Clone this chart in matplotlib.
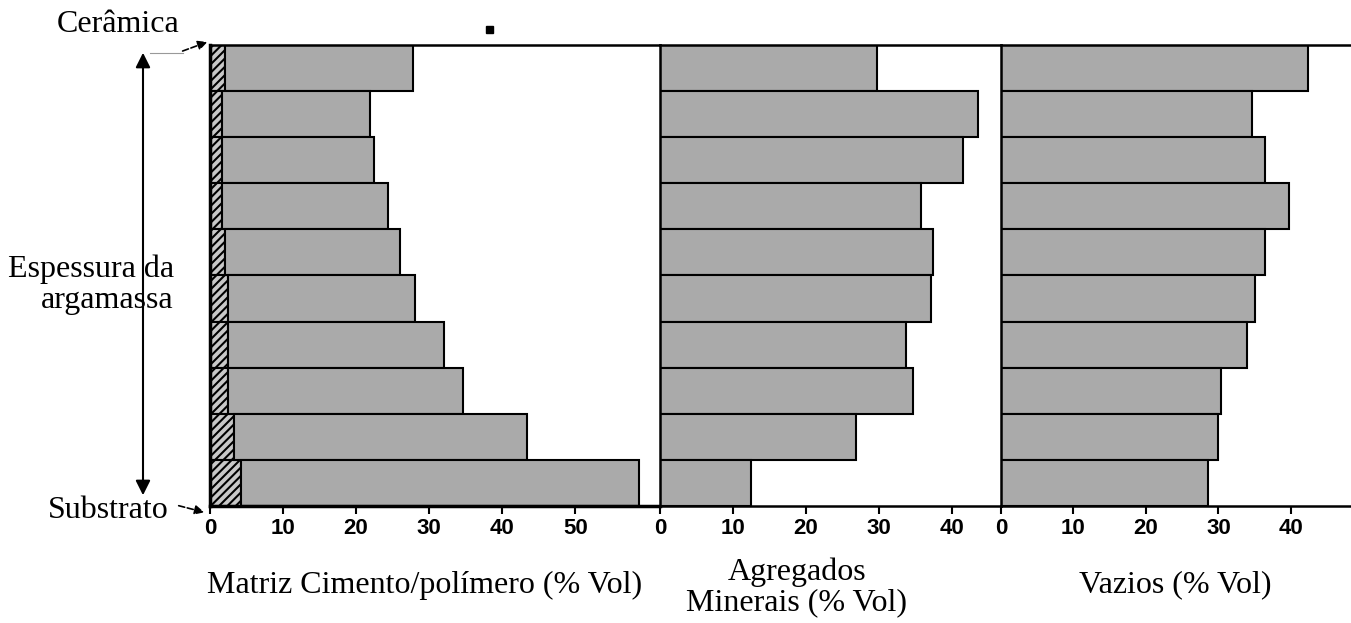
import matplotlib.pyplot as plt

# camadas da argamassa, de cima (ceramica) para baixo (substrato)
camadas = list(range(10, 0, -1))

# matriz cimento/polimero (% Vol): parte hachurada (polimero) + parte cinza (cimento)
polimero = [2.0, 1.7, 1.7, 1.7, 2.0, 2.4, 2.4, 2.4, 3.3, 4.3]
cimento = [25.8, 20.2, 20.7, 22.7, 24.0, 25.7, 29.7, 32.3, 40.1, 54.4]

agregados = [29.7, 43.5, 41.5, 35.8, 37.4, 37.1, 33.7, 34.7, 26.8, 12.4]
vazios = [42.4, 34.7, 36.4, 39.8, 36.4, 35.1, 34.0, 30.3, 30.0, 28.6]

ticks_matriz = [0, 10, 20, 30, 40, 50]
ticks_agreg = [0, 10, 20, 30, 40]
ticks_vazios = [0, 10, 20, 30, 40]

W, H = 1351, 623
fig = plt.figure(figsize=(W / 100, H / 100), dpi=100)

cinza = "#aaaaaa"
plt.rcParams["hatch.linewidth"] = 1.5


def px(x0, x1, y0=45, y1=506):
    return [x0 / W, 1 - y1 / H, (x1 - x0) / W, (y1 - y0) / H]


ax1 = fig.add_axes(px(210, 660))
ax2 = fig.add_axes(px(660, 1001))
ax3 = fig.add_axes(px(1001, 1351))

ax1.barh(camadas, polimero, height=1, color="#c8c8c8", edgecolor="black",
         hatch="////", linewidth=1.5)
ax1.barh(camadas, cimento, left=polimero, height=1, color=cinza,
         edgecolor="black", linewidth=1.5)
ax2.barh(camadas, agregados, height=1, color=cinza, edgecolor="black", linewidth=1.5)
ax3.barh(camadas, vazios, height=1, color=cinza, edgecolor="black", linewidth=1.5)

for ax, xmax, ticks in [(ax1, 61.6, ticks_matriz), (ax2, 46.7, ticks_agreg),
                        (ax3, 48.3, ticks_vazios)]:
    ax.set_xlim(0, xmax)
    ax.set_ylim(0.5, 10.5)
    ax.set_yticks([])
    ax.set_xticks(ticks)
    ax.set_xticklabels([str(t) for t in ticks], fontweight="bold",
                       fontfamily="Liberation Sans", fontsize=16)
    ax.tick_params(axis="x", direction="out", length=6, width=1.5, pad=3)
    ax.spines["right"].set_visible(False)
    for s in ["top", "left", "bottom"]:
        ax.spines[s].set_linewidth(1.8)
ax1.spines["left"].set_linewidth(2.5)
ax1.spines["bottom"].set_linewidth(2.5)

serif = "Liberation Serif"
fs = 23
fig.text(425 / W, 1 - 585 / H, "Matriz Cimento/polímero (% Vol)", ha="center",
         va="center", fontsize=fs, family=serif)
fig.text(797 / W, 1 - 587 / H, "Agregados\nMinerais (% Vol)", ha="center",
         va="center", fontsize=fs, family=serif, linespacing=1.05)
fig.text(1175 / W, 1 - 585 / H, "Vazios (% Vol)", ha="center", va="center",
         fontsize=fs, family=serif)

fig.text(118 / W, 1 - 24 / H, "Cerâmica", ha="center", va="center",
         fontsize=fs, family=serif)
fig.text(174 / W, 1 - 285 / H, "Espessura da\nargamassa", ha="right",
         va="center", multialignment="right", fontsize=fs, family=serif,
         linespacing=1.1)
fig.text(108 / W, 1 - 510 / H, "Substrato", ha="center", va="center",
         fontsize=fs, family=serif)

# seta dupla da espessura
fig.add_artist(plt.Line2D([150 / W, 183 / W], [1 - 53 / H, 1 - 53 / H],
                          color="#999999", lw=0.8))
plt.annotate("", xy=(143, H - 50), xytext=(143, H - 498),
             xycoords="figure pixels", textcoords="figure pixels",
             arrowprops=dict(arrowstyle="<|-|>", color="black", lw=1.5,
                             mutation_scale=22))
plt.annotate("", xy=(210, H - 41), xytext=(180, H - 52),
             xycoords="figure pixels", textcoords="figure pixels",
             arrowprops=dict(arrowstyle="-|>", color="black", lw=1.2,
                             linestyle="--", mutation_scale=14))
plt.annotate("", xy=(207, H - 513), xytext=(176, H - 505),
             xycoords="figure pixels", textcoords="figure pixels",
             arrowprops=dict(arrowstyle="-|>", color="black", lw=1.2,
                             linestyle="--", mutation_scale=14))

# pequeno quadrado preto no topo
fig.add_artist(plt.Rectangle((486 / W, 1 - 33 / H), 7 / W, 7 / H,
                             color="black", transform=fig.transFigure))

fig.savefig("out.png", dpi=100)
